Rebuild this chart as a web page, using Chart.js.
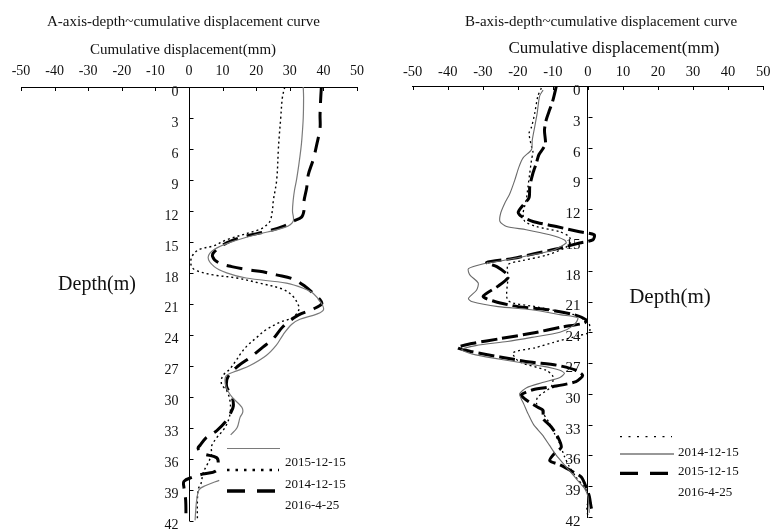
<!DOCTYPE html>
<html><head><meta charset="utf-8">
<script src="https://cdn.jsdelivr.net/npm/chart.js@4/dist/chart.umd.min.js"></script>
<style>
html,body{margin:0;padding:0;background:#fff;overflow:hidden}
#wrap{position:relative;width:776px;height:529px;background:#fff}
#cA{position:absolute;left:0;top:0}
#cB{position:absolute;left:390px;top:0}
</style></head><body>
<div id="wrap">
<canvas id="cA" width="390" height="529"></canvas>
<canvas id="cB" width="386" height="529"></canvas>
</div>
<script>
// ---------- data ----------
const depthTicks = [0,3,6,9,12,15,18,21,24,27,30,33,36,39,42];
const dispTicks = [-50,-40,-30,-20,-10,0,10,20,30,40,50];

// Panel A (A-axis)
const aGrayDepth = [0,1,3,5,6,7.5,9,10,11,12,13,13.6,14.3,15,15.7,16.5,17.4,18,18.5,19,19.5,20,21,21.6,22,22.5,23,24,25,26,27,27.5,28,29,30,31,31.5,32,33,33.7,null,38.1,38.6,39,40,41,42];
const aGrayDisp  = [34,34.1,34,33.6,33.3,32.7,32,31.4,31,30.8,31,28.5,20,12.7,7.7,5.7,7.5,11.2,17,29,34,37,39.5,40,38,33,30.5,28,26,23,18,14.2,11,11,12.7,15.7,16,15.2,14.3,12.4,null,9,5,3,2.3,2,1.8];

const aDotDepth = [0,1,3,5,6,9,11,12,13,13.5,13.8,14.8,15.4,15.7,16.2,16.9,17.5,17.8,18.2,18.5,19,19.6,20.3,21.1,21.5,22.3,22.8,23.5,24.3,25.1,25.9,26.4,27.3,28,28.8,29.4,30.4,31.7,33,34,34.8,35.6,36.4,37.3,38.5,38.9,40,42];
const aDotDisp  = [28.5,27.8,27.3,26.8,26.6,26.1,25.1,24.8,24.1,22.6,21,11.2,7.2,3.3,1.3,0.5,1,2.3,7.2,14.2,21,28,31,32.5,32.8,31,27,23,20,17.2,15.2,14.2,12.2,10,9.7,11.2,12.2,12.2,10.7,8.2,6.7,6.7,5.7,4.3,3.5,2.8,2.5,2.5];

const aDashDepth = [0,1.1,2.7,4,5.6,7,8.5,9.8,11.1,12,12.6,13,13.5,14,14.5,15.1,15.9,16.4,17,17.4,17.7,17.9,18.2,18.6,19.3,20,20.6,21,21.5,22.1,23.2,24.4,25.2,26.2,27,28,29,29.9,30.9,31.7,32.3,33.3,34,34.7,35,35.5,35.9,36.5,37.2,37.5,37.8,38.2,38.8,40,41.8];
const aDashDisp  = [39.4,39.2,39,39,38,37,35.5,35,34.2,34.2,33.5,31,28,23,16.2,11.2,7.7,7,8.7,12.7,17.6,22,26,31,34.5,37,39,39.5,37,32.5,28,25,22,18.2,14.7,11.7,11.2,12.7,13.2,12.2,11.2,8.2,5,3.3,2.7,4,8.2,8.7,8,4,1,-1.5,-1.5,-1,-0.9];

// Panel B (B-axis)
const bGrayDepth = [0.4,1,2.7,4,5.3,6.2,7,7.9,9.2,10.5,11.4,12.4,13.2,13.7,14,14.5,15,15.3,16,16.5,17,17.3,17.8,18.4,19.2,19.9,20.7,21,21.5,21.8,22.3,22.6,23.3,24,24.5,24.9,25.3,25.7,26.2,26.8,27.3,27.7,28,28.4,28.9,29.4,30,30.5,31,32,33,34,35,36,37,38,38.6,39.2,40,41.6];
const bGrayDisp  = [-12.8,-13.8,-14.5,-15.2,-15.9,-16.1,-18.5,-19.7,-20.9,-22.3,-23.7,-24.9,-25.1,-23.2,-17.6,-10.9,-6.7,-6.2,-10,-16.6,-24.2,-29.4,-34.1,-33.7,-31.3,-31.8,-34.1,-33.2,-25.6,-16.1,-7.6,-2.9,-4,-8,-16,-23,-32,-36,-32,-22,-13,-8,-6.7,-8,-13,-17.5,-19.5,-19,-18.3,-17,-15.5,-13,-11,-9,-6.5,-4,-2.5,-1,0,0.4];

const bDotDepth = [0.2,1,2.7,4,4.6,5.9,6.4,7.2,8.5,9.8,11.1,12.4,13.2,13.7,14.2,14.7,15.3,15.8,16.5,17,17.4,18.6,20.9,21.5,22.3,22.8,23.2,24,24.3,25,25.5,26,26.9,27.7,28.3,29.3,30.3,30.9,31.9,32.9,33.9,34.8,36.1,37.1,38.1,39.1,40,41,42];
const bDotDisp  = [-13.3,-14.3,-15.2,-16.1,-16.8,-16.1,-15.7,-16.1,-16.6,-17.1,-17.6,-18.5,-18,-14.7,-8.1,-5.3,-5,-6.7,-11.9,-18.5,-22.8,-22.8,-22.8,-15,-3.8,-1,0.4,0.4,-2.4,-10,-15,-21.4,-19.5,-11.9,-10,-10.5,-14.3,-14.7,-12.8,-10.9,-9.5,-8.1,-6.7,-5.3,-3.4,-1,0.4,-0.3,0];

const bThickDepth = [0,1.4,2.3,3.3,4.3,5.6,6.1,6.7,7.5,8.5,9.8,10.9,11.6,12.3,12.7,13.2,13.7,14.2,14.5,15,15.3,15.8,16.3,16.8,17.2,17.6,18.3,18.7,19.5,20.5,21,21.5,21.8,22.3,22.8,23.1,23.5,24.1,24.6,25.1,25.5,25.9,26.4,26.9,27.2,27.7,28.2,28.8,29.3,29.6,30.1,30.6,31.3,31.6,32.4,33.2,34.2,35.2,35.8,36.5,36.9,37.6,38.1,39.1,40,41,41.6];
const bThickDisp  = [-9,-10,-10.9,-11.9,-12.4,-12.1,-12.8,-14,-14.7,-15.7,-16.6,-16.8,-18.5,-19.9,-19,-15.7,-9,-2.4,1.8,1.4,-2.4,-8.1,-14.7,-21.4,-28.9,-26,-23.2,-22.8,-25.6,-29.9,-26.6,-19.9,-11.4,-3.8,-0.5,-1,-7.6,-16.1,-24.7,-33.2,-37.3,-33,-25.1,-16.6,-9,-3.4,-1.5,-3.4,-10,-15.7,-19,-17.6,-14.3,-12.8,-12.8,-10.5,-8.6,-7.6,-9.5,-10.9,-8.1,-4.3,-1.9,-0.5,0.4,0.9,1.4];

const legendA = ['2015-12-15','2014-12-15','2016-4-25'];
const legendB = ['2014-12-15','2015-12-15','2016-4-25'];

// ---------- helpers ----------
const SERIF = '"Liberation Serif", "DejaVu Serif", serif';
function pts(depths, vals){ return depths.map((d,i)=>({x: vals[i], y: d})); }

const decor = {
  id: 'decor',
  afterDraw(chart, args, o) {
    const ctx = chart.ctx, xs = chart.scales.x, ys = chart.scales.y, top = chart.chartArea.top;
    ctx.save();
    ctx.strokeStyle = '#000'; ctx.lineWidth = 1; ctx.beginPath();
    xs.ticks.forEach(t => { const px = Math.round(xs.getPixelForValue(t.value)) + 0.5; ctx.moveTo(px, top); ctx.lineTo(px, top + o.tick); });
    const x0 = Math.round(xs.getPixelForValue(0)) + 0.5;
    ys.ticks.forEach(t => { const py = Math.round(ys.getPixelForValue(t.value)) + 0.5; ctx.moveTo(x0, py); ctx.lineTo(x0 + o.tick, py); });
    ctx.stroke();
    if (o.box) { ctx.fillStyle = '#fff'; ctx.fillRect(o.box[0], o.box[1], o.box[2], o.box[3]); }
    o.lines.forEach(l => {
      ctx.beginPath(); ctx.setLineDash(l.dash); ctx.lineWidth = l.w; ctx.strokeStyle = l.c;
      ctx.moveTo(l.x1, l.y); ctx.lineTo(l.x2, l.y); ctx.stroke();
    });
    ctx.setLineDash([]);
    ctx.fillStyle = '#111'; ctx.textBaseline = 'middle';
    o.texts.forEach(t => { ctx.font = t.size + 'px ' + SERIF; ctx.textAlign = t.align || 'center'; ctx.fillText(t.s, t.x, t.y); });
    ctx.restore();
  }
};

function makeChart(id, c) {
  return new Chart(document.getElementById(id), {
    type: 'scatter',
    data: { datasets: c.datasets },
    options: {
      responsive: false, animation: false, events: [],
      layout: { padding: c.pad },
      elements: { point: { radius: 0 } },
      plugins: { legend: { display: false }, tooltip: { enabled: false }, decor: c.decor },
      scales: {
        x: {
          type: 'linear', position: 'top', min: -50, max: 50,
          afterBuildTicks: s => { s.ticks = dispTicks.map(v => ({ value: v })); },
          afterFit: s => { s.height = c.axisTop; },
          grid: { display: false, drawTicks: false },
          border: { display: true, color: '#000', width: 1 },
          ticks: { color: '#111', font: { family: SERIF, size: c.xFont }, padding: c.xPad, maxRotation: 0, autoSkip: false }
        },
        y: {
          type: 'linear', position: { x: 0 }, reverse: true, min: 0, max: 42,
          afterBuildTicks: s => { s.ticks = depthTicks.map(v => ({ value: v })); },
          grid: { display: false, drawTicks: false },
          border: { display: true, color: '#000', width: 1 },
          ticks: { color: '#111', font: { family: SERIF, size: c.yFont }, padding: 0, labelOffset: 5, autoSkip: false,
                   callback: v => String(v) + c.yGap }
        }
      }
    },
    plugins: [decor]
  });
}

makeChart('cA', {
  pad: { left: 21, right: 33, top: 0, bottom: 8 },
  axisTop: 87, xFont: 14, xPad: 7, yFont: 14, yGap: '   ',
  datasets: [
    { data: pts(aGrayDepth, aGrayDisp), showLine: true, borderColor: '#7a7a7a', borderWidth: 1.2, tension: 0.35, spanGaps: false },
    { data: pts(aDotDepth, aDotDisp), showLine: true, borderColor: '#000', borderWidth: 1.4, borderDash: [2, 3], tension: 0.35 },
    { data: pts(aDashDepth, aDashDisp), showLine: true, borderColor: '#000', borderWidth: 3, borderDash: [16, 9], tension: 0.35 }
  ],
  decor: {
    tick: 4,
    box: [221, 437, 152, 80],
    lines: [
      { x1: 227, x2: 280, y: 448.5, w: 1.2, c: '#7a7a7a', dash: [] },
      { x1: 227, x2: 279, y: 470, w: 2.5, c: '#000', dash: [2.5, 6] },
      { x1: 227, x2: 276, y: 491, w: 3.3, c: '#000', dash: [18, 12] }
    ],
    texts: [
      { s: 'A-axis-depth~cumulative displacement curve', x: 183.5, y: 22, size: 15 },
      { s: 'Cumulative displacement(mm)', x: 183, y: 50, size: 15 },
      { s: 'Depth(m)', x: 97, y: 285, size: 20 },
      { s: legendA[0], x: 285, y: 463, size: 13, align: 'left' },
      { s: legendA[1], x: 285, y: 484.5, size: 13, align: 'left' },
      { s: legendA[2], x: 285, y: 506, size: 13, align: 'left' }
    ]
  }
});

makeChart('cB', {
  pad: { left: 22.7, right: 11, top: 0, bottom: 12 },
  axisTop: 86, xFont: 14.5, xPad: 5.6, yFont: 15, yGap: '  ',
  datasets: [
    { data: pts(bGrayDepth, bGrayDisp), showLine: true, borderColor: '#6a6a6a', borderWidth: 1.1, tension: 0.25 },
    { data: pts(bDotDepth, bDotDisp), showLine: true, borderColor: '#000', borderWidth: 1.3, borderDash: [2, 3], tension: 0.25 },
    { data: pts(bThickDepth, bThickDisp), showLine: true, borderColor: '#000', borderWidth: 3, borderDash: [16, 5], tension: 0.25 }
  ],
  decor: {
    tick: 4,
    box: null,
    lines: [
      { x1: 230, x2: 282, y: 436.7, w: 1.3, c: '#000', dash: [2, 6.5] },
      { x1: 230, x2: 284, y: 454, w: 1.2, c: '#333', dash: [] },
      { x1: 230, x2: 279, y: 473.3, w: 3.3, c: '#000', dash: [18, 12] }
    ],
    texts: [
      { s: 'B-axis-depth~cumulative displacement curve', x: 211, y: 22, size: 15 },
      { s: 'Cumulative displacement(mm)', x: 224, y: 48.5, size: 17 },
      { s: 'Depth(m)', x: 280, y: 297, size: 21 },
      { s: legendB[0], x: 288, y: 453, size: 13, align: 'left' },
      { s: legendB[1], x: 288, y: 472, size: 13, align: 'left' },
      { s: legendB[2], x: 288, y: 493, size: 13, align: 'left' }
    ]
  }
});
</script>
</body></html>
